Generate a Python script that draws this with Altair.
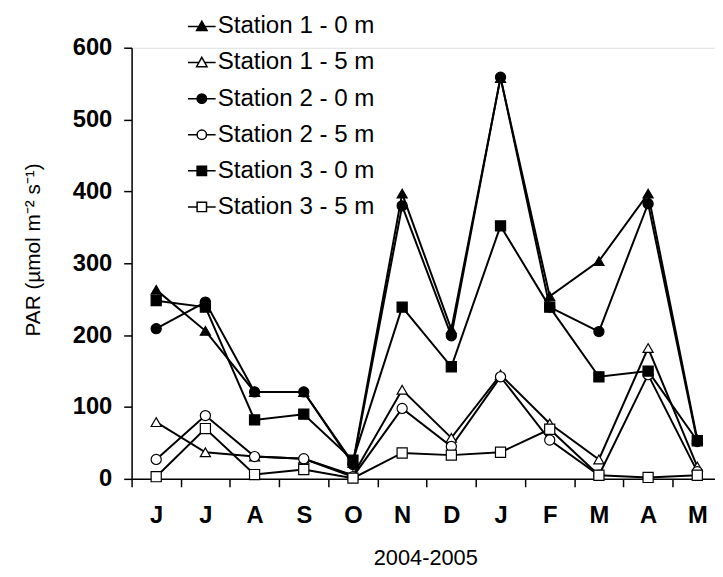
import altair as alt
import pandas as pd

months = ["J", "J", "A", "S", "O", "N", "D", "J", "F", "M", "A", "M"]
series_names = ["Station 1 - 0 m", "Station 1 - 5 m", "Station 2 - 0 m",
                "Station 2 - 5 m", "Station 3 - 0 m", "Station 3 - 5 m"]
s1_0 = [263, 206, 121, 121, 22, 397, 208, 558, 254, 303, 397, 55]
s1_5 = [79, 37, 31, 28, 5, 124, 57, 145, 77, 27, 182, 17]
s2_0 = [209, 246, 121, 121, 20, 380, 199, 559, 239, 205, 383, 52]
s2_5 = [27, 88, 31, 28, 3, 98, 45, 142, 54, 5, 145, 10]
s3_0 = [248, 239, 82, 90, 26, 239, 156, 352, 239, 142, 150, 53]
s3_5 = [3, 70, 6, 13, 1, 36, 33, 37, 69, 5, 2, 5]

all_series = [s1_0, s1_5, s2_0, s2_5, s3_0, s3_5]
rows = []
for name, vals in zip(series_names, all_series):
    for i, v in enumerate(vals):
        rows.append({"series": name, "idx": i, "month": months[i], "par": v})
df = pd.DataFrame(rows)

shapes = ["triangle-up", "triangle-up", "circle", "circle", "square", "square"]
fills = ["black", "white", "black", "white", "black", "white"]
strokes = ["black"] * 6
tri = "M-1,0H-0.2M0.2,0H1M0,-0.38L0.38,0.3H-0.38Z"
cir = "M-1,0H-0.34M0.34,0H1M0.34,0A0.34,0.34 0 1,1 -0.34,0A0.34,0.34 0 1,1 0.34,0Z"
sqr = "M-1,0H-0.34M0.34,0H1M-0.34,-0.34H0.34V0.34H-0.34Z"
legend_shapes = [tri, tri, cir, cir, sqr, sqr]

FONT = "Liberation Sans"
month_js = "[" + ",".join("'" + m + "'" for m in months) + "]"

x_enc = alt.X(
    "idx:Q",
    scale=alt.Scale(domain=[-0.5, 11.36], nice=False, zero=False),
    axis=alt.Axis(
        values=[i - 0.5 for i in range(len(months))],
        labelExpr=month_js + "[round(datum.value + 0.5)]",
        labelOffset=24.9, labelFlush=False, labelOverlap=False, labelBound=False,
        tickSize=8, tickColor="black", tickWidth=1.5,
        domainColor="black", domainWidth=1.5,
        labelFont=FONT, labelFontSize=24, labelFontWeight="bold", labelColor="black",
        labelPadding=17, grid=False,
        title="2004-2005", titleFont=FONT, titleFontSize=22, titleFontWeight="normal",
        titleColor="black", titleX=297, titleY=87, titleBaseline="alphabetic",
    ),
)
y_enc = alt.Y(
    "par:Q",
    scale=alt.Scale(domain=[0, 600], nice=False),
    axis=alt.Axis(
        values=[0, 100, 200, 300, 400, 500, 600],
        tickSize=8, tickColor="black", tickWidth=1.5,
        domainColor="black", domainWidth=1.5,
        labelFont=FONT, labelFontSize=24, labelFontWeight="bold", labelColor="black",
        labelPadding=12, grid=False,
        title="PAR (µmol m⁻² s⁻¹)", titleFont=FONT, titleFontSize=21,
        titleFontWeight="normal", titleColor="black",
        titleX=-99.5, titleY=204, titleAngle=270, titleBaseline="middle", titleAlign="center",
    ),
)

base = alt.Chart(df)

lines = base.mark_line(color="black", strokeWidth=2).encode(
    x=x_enc, y=y_enc, detail="series:N"
)

points = base.mark_point(filled=True, size=105, stroke="black", strokeWidth=1.2, opacity=1).encode(
    x=x_enc, y=y_enc,
    shape=alt.Shape("series:N", scale=alt.Scale(domain=series_names, range=shapes), legend=None),
    fill=alt.Fill("series:N", scale=alt.Scale(domain=series_names, range=fills), legend=None),
)

leg = alt.Legend(
    title=None, orient="none", legendX=56, legendY=-36.5, padding=0,
    symbolSize=784, symbolStrokeWidth=1.5, symbolStrokeColor="black", symbolOpacity=1,
    labelFont=FONT, labelFontSize=24.4, labelColor="black", labelOffset=1,
    rowPadding=9.5, labelLimit=400,
)

legend_layer = base.transform_filter("false").mark_point(
    filled=True, size=784, strokeWidth=1.5, opacity=1
).encode(
    x=x_enc, y=y_enc,
    shape=alt.Shape("series:N", scale=alt.Scale(domain=series_names, range=legend_shapes), legend=leg),
    fill=alt.Fill("series:N", scale=alt.Scale(domain=series_names, range=fills), legend=leg),
    stroke=alt.Stroke("series:N", scale=alt.Scale(domain=series_names, range=strokes), legend=leg),
)

chart = alt.layer(lines, points, legend_layer).resolve_scale(
    shape="independent", fill="independent", stroke="independent"
).properties(
    width=590, height=436,
    padding={"left": 125, "top": 37, "right": 0, "bottom": 88},
    autosize="none", background="white",
).configure_view(stroke=None).configure(font=FONT)

chart.save("out.html", embed_options={"renderer": "svg", "actions": False})
